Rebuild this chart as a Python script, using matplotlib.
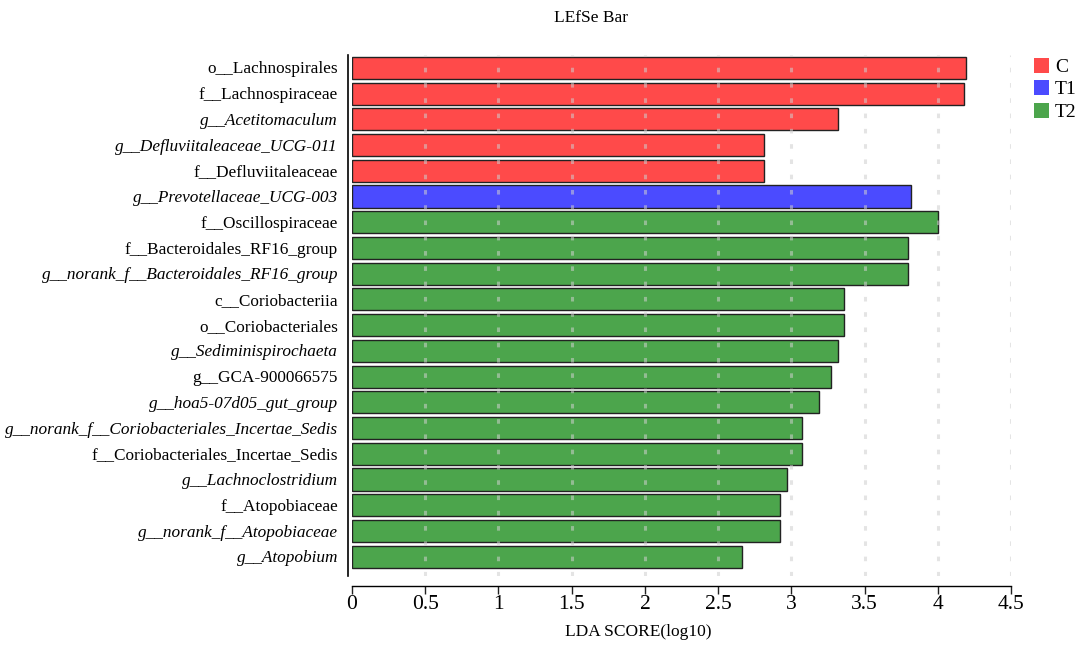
import matplotlib
matplotlib.use("Agg")
import matplotlib.pyplot as plt
from matplotlib.patches import Patch

features = [
    "o__Lachnospirales", "f__Lachnospiraceae", "g__Acetitomaculum",
    "g__Defluviitaleaceae_UCG-011", "f__Defluviitaleaceae",
    "g__Prevotellaceae_UCG-003", "f__Oscillospiraceae",
    "f__Bacteroidales_RF16_group", "g__norank_f__Bacteroidales_RF16_group",
    "c__Coriobacteriia", "o__Coriobacteriales", "g__Sediminispirochaeta",
    "g__GCA-900066575", "g__hoa5-07d05_gut_group",
    "g__norank_f__Coriobacteriales_Incertae_Sedis",
    "f__Coriobacteriales_Incertae_Sedis", "g__Lachnoclostridium",
    "f__Atopobiaceae", "g__norank_f__Atopobiaceae", "g__Atopobium",
]
lda = [4.19, 4.18, 3.32, 2.81, 2.81, 3.82, 4.00, 3.80, 3.80, 3.36, 3.36,
       3.32, 3.27, 3.19, 3.07, 3.07, 2.97, 2.92, 2.92, 2.66]
groups = ["C"] * 5 + ["T1"] + ["T2"] * 14
italic = [False, False, True, True, False, True, False, False, True, False,
          False, True, False, True, True, False, True, False, True, True]
group_names = ["C", "T1", "T2"]
group_colors = {"C": "#FF4A4A", "T1": "#4B4BFF", "T2": "#4CA54C"}
xticks = [0, 0.5, 1, 1.5, 2, 2.5, 3, 3.5, 4, 4.5]

plt.rcParams['font.family'] = ['Liberation Serif', 'DejaVu Serif']

fig = plt.figure(figsize=(10.76, 6.46), dpi=100)
W, H = 1076, 646
left, right = 352, 1011
top, bottom = 55, 576
ax = fig.add_axes([left / W, 1 - bottom / H, (right - left) / W, (bottom - top) / H])

ypos = list(range(len(features)))
ax.barh(ypos, lda, height=0.86, color=[group_colors[g] for g in groups],
        edgecolor="#222222", linewidth=1.0, zorder=2)
ax.set_xlim(0, 4.5)
ax.set_ylim(len(features) - 1 + 0.75, -0.5)

for x in xticks[1:]:
    ax.axvline(x, color="#cfcfcf", linestyle=(0, (1.5, 3.5)), linewidth=2.2,
               alpha=0.55, zorder=3)

ax.set_yticks(ypos)
ax.set_yticklabels([])
ax.tick_params(axis="y", length=0)
label_x = -14 / (right - left)
for y, name, it in zip(ypos, features, italic):
    ax.text(label_x, y + 0.06, name, transform=ax.get_yaxis_transform(), ha="right",
            va="center", fontsize=12.4, fontstyle="italic" if it else "normal")

ax.set_xticks(xticks)
ax.set_xticklabels([f"{v:g}" for v in xticks])
ax.tick_params(axis="x", direction="out", length=6, width=1, color="#222222",
               pad=1, labelsize=15.5)

for s in ["top", "right"]:
    ax.spines[s].set_visible(False)
ax.spines["bottom"].set_position(("outward", 7))
ax.spines["bottom"].set_bounds(0, 4.5)
ax.spines["left"].set_position(("outward", 3))
ax.spines["left"].set_linewidth(1.2)
ax.spines["bottom"].set_linewidth(1.0)

fig.text(591 / W, 1 - 18 / H, "LEfSe Bar", ha="center", va="center", fontsize=12.5)
fig.text(638 / W, 1 - 632 / H, "LDA SCORE(log10)", ha="center", va="center", fontsize=12.5)

handles = [Patch(facecolor=group_colors[g], edgecolor="none", label=g) for g in group_names]
fig.legend(handles=handles, loc="upper left", bbox_to_anchor=(1026 / W, 1 - 50 / H),
           frameon=False, fontsize=14, handlelength=0.8, handleheight=0.8,
           handletextpad=0.3, labelspacing=0.22, borderaxespad=0)

fig.savefig("out.png", dpi=100)
